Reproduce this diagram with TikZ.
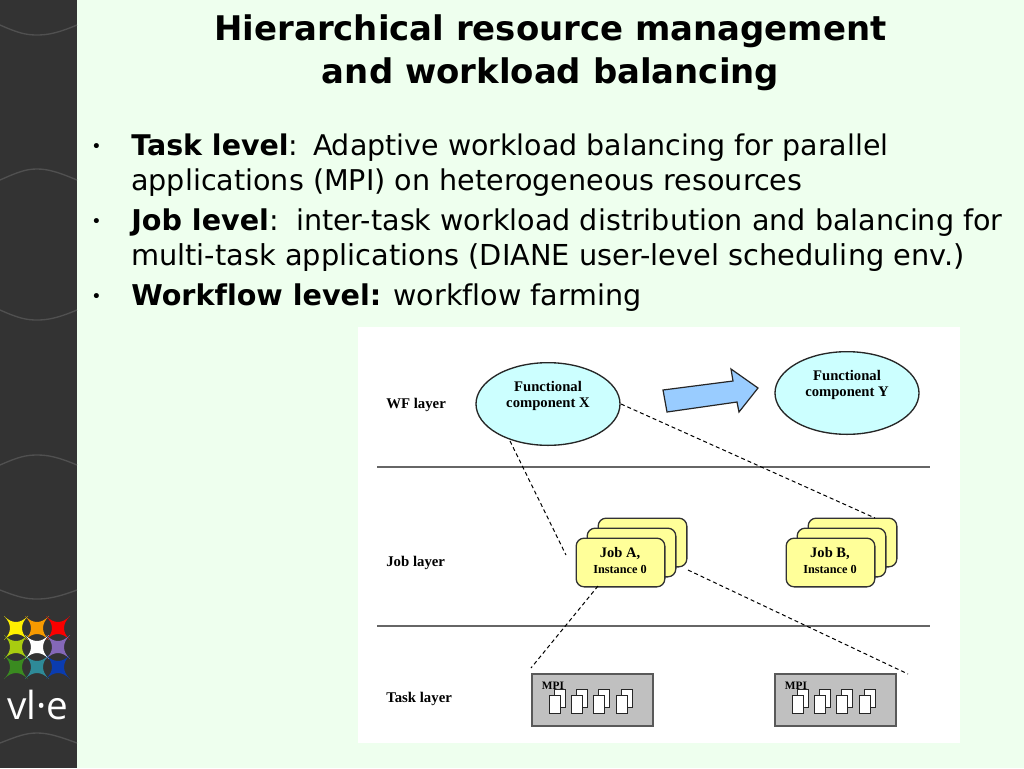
\documentclass[tikz,border=0pt]{standalone}
\usepackage{fontspec}
\setmainfont{DejaVu Sans}[Ligatures=NoCommon]
\newfontfamily\serifb{Liberation Serif}
\newfontfamily\logofont{Open Sans}
\definecolor{pagebg}{HTML}{EEFFEE}
\definecolor{sidebar}{HTML}{333333}
\definecolor{wave}{HTML}{505050}
\definecolor{ell}{HTML}{CCFFFF}
\definecolor{jobf}{HTML}{FFFF99}
\definecolor{arrowf}{HTML}{99CCFF}
\definecolor{taskf}{HTML}{C0C0C0}
\definecolor{lg1}{HTML}{FFF000}
\definecolor{lg2}{HTML}{F79A00}
\definecolor{lg3}{HTML}{FA0000}
\definecolor{lg4}{HTML}{A8CC10}
\definecolor{lg5}{HTML}{FFFFFF}
\definecolor{lg6}{HTML}{8468B8}
\definecolor{lg7}{HTML}{3A8A20}
\definecolor{lg8}{HTML}{2E8A98}
\definecolor{lg9}{HTML}{0A3CB0}
\tikzset{
  x=0.75pt,y=-0.75pt,
  title/.style={font=\fontsize{25.45}{25.45}\selectfont\bfseries,anchor=center,inner sep=0pt,text=black},
  body/.style={font=\fontsize{21.45}{21.45}\selectfont,anchor=base west,inner sep=0pt,text=black},
  bul/.style={font=\fontsize{13}{13}\selectfont,anchor=base west,inner sep=0pt},
  layer/.style={font=\serifb\fontsize{11.1}{12}\selectfont\bfseries,anchor=west,inner sep=0pt},
  comp/.style={draw=black!85,fill=ell,line width=1pt,ellipse,minimum width=108pt,minimum height=62pt,inner sep=0pt,align=center,font=\serifb\fontsize{11}{12}\selectfont\bfseries},
  jobbox/.style={draw=black!80,fill=jobf,rounded corners=6pt,line width=1pt,minimum width=66.5pt,minimum height=36.5pt,inner sep=0pt,align=center},
  joblabel/.style={font=\serifb\fontsize{10.9}{12}\selectfont\bfseries,align=center,inner sep=0pt},
  mpilabel/.style={font=\serifb\fontsize{8.5}{8.5}\selectfont\bfseries,inner sep=0pt},
  taskbox/.style={draw=black!65,fill=taskf,line width=1.1pt,minimum width=91pt,minimum height=39pt,inner sep=0pt},
  docbox/.style={draw=black!85,fill=white,line width=0.9pt,minimum width=8.6pt,minimum height=13pt,inner sep=0pt},
  dashline/.style={black,line width=0.75pt,dash pattern=on 3pt off 2.2pt},
  rule/.style={black!60,line width=0.8pt},
  wavel/.style={wave,line width=1pt},
}
\usetikzlibrary{shapes.geometric}
\newcommand{\logostar}[3]{\fill[#3] (#1-12,#2-12) .. controls (#1-4,#2-4) and (#1+4,#2-4) .. (#1+12,#2-12) .. controls (#1+4,#2-4) and (#1+4,#2+4) .. (#1+12,#2+12) .. controls (#1+4,#2+4) and (#1-4,#2+4) .. (#1-12,#2+12) .. controls (#1-4,#2+4) and (#1-4,#2-4) .. cycle;}
\newcommand{\jobstack}[3]{%
  \node[jobbox] at (#1+22,#2-20) {};
  \node[jobbox] at (#1+11,#2-10) {};
  \node[jobbox] (#3) at (#1,#2) {};
}
\newcommand{\docpair}[2]{%
  \node[docbox] at (#1+5,#2-6) {};
  \node[docbox] at (#1,#2) {};
}
\begin{document}
\begin{tikzpicture}
\useasboundingbox (0,0) rectangle (1024,768);
\fill[pagebg] (0,0) rectangle (1024,768);
\fill[sidebar] (0,0) rectangle (77,768);
\draw[wavel] (0,25) .. controls (18,33) and (26,35) .. (37,35) .. controls (48,35) and (58,33) .. (77,25);
\draw[wavel] (0,180) .. controls (18,172) and (26,169) .. (37,169) .. controls (48,169) and (58,172) .. (77,180);
\draw[wavel] (0,310) .. controls (18,318) and (26,320) .. (37,320) .. controls (48,320) and (58,318) .. (77,310);
\draw[wavel] (0,465) .. controls (18,457) and (26,455) .. (37,455) .. controls (48,455) and (58,457) .. (77,465);
\draw[wavel] (0,590) .. controls (18,597) and (26,599) .. (37,599) .. controls (48,599) and (58,597) .. (77,590);
\draw[wavel] (0,743) .. controls (18,736) and (26,733) .. (37,733) .. controls (48,733) and (58,736) .. (77,743);
\logostar{16}{628}{lg1}
\logostar{37}{628}{lg2}
\logostar{58}{628}{lg3}
\logostar{16}{647}{lg4}
\logostar{37}{647}{lg5}
\logostar{58}{647}{lg6}
\logostar{16}{667}{lg7}
\logostar{37}{667}{lg8}
\logostar{58}{667}{lg9}
\node[font=\logofont\fontsize{29}{29}\selectfont,text=white,inner sep=0pt,anchor=base] (logo) at (38,719) {vl·e};
\node[title] (t1) at (550.5,31) {Hierarchical resource management};
\node[title] (t2) at (550.5,74) {and workload balancing};
\node[bul] (b1) at (91,152) {•};
\node[bul] (b2) at (91,227) {•};
\node[bul] (b3) at (91,302) {•};
\node[body,font=\fontsize{21.35}{21.35}\selectfont] (l1) at (131,155.5) {\textbf{Task level}:\hspace{2pt} Adaptive workload balancing for parallel};
\node[body] (l2) at (131,190.5) {applications (MPI) on heterogeneous resources};
\node[body] (l3) at (131,230.5) {\textbf{Job level}:\hspace{4pt} inter-task workload distribution and balancing for};
\node[body,font=\fontsize{21.63}{21.63}\selectfont] (l4) at (131,265.5) {multi-task applications (DIANE user-level scheduling env.)};
\node[body] (l5) at (131,305.5) {\textbf{Workflow level:} workflow farming};
\fill[white] (358,327) rectangle (960,743);
\draw[rule] (377,467) -- (930,467);
\draw[rule] (377,626) -- (930,626);
\node[comp] (fx) at (548,404) {Functional\\component X\\[3pt]};
\node[comp] (fy) at (847,393) {Functional\\component Y\\[3pt]};
\draw[draw=black!85,fill=arrowf,line width=0.9pt] (663,390) -- (733,381) -- (731,369) -- (758,388) -- (739,412) -- (737,402) -- (667,412) -- cycle;
\node[layer] (wf) at (386,404.5) {WF layer};
\node[layer] (jl) at (386,562.5) {Job layer};
\node[layer] (tl) at (386,698.5) {Task layer};
\jobstack{620.5}{562.5}{ja}
\jobstack{830.5}{562.5}{jb}
\node[joblabel] (jat) at (620,561) {Job A,\\{\fontsize{9.2}{12}\selectfont Instance 0}};
\node[joblabel] (jbt) at (830,561) {Job B,\\{\fontsize{9.2}{12}\selectfont Instance 0}};
\node[taskbox] (ta) at (592.5,700) {};
\node[taskbox] (tb) at (835.5,700) {};
\node[mpilabel] (ma) at (553,686) {MPI};
\node[mpilabel] (mb) at (796,686) {MPI};
\docpair{555}{704.5}\docpair{577}{704.5}\docpair{599}{704.5}\docpair{622}{704.5}
\docpair{798}{704.5}\docpair{820}{704.5}\docpair{842}{704.5}\docpair{865}{704.5}
\coordinate (c1) at (510,441);
\coordinate (c2) at (566,555);
\coordinate (c3) at (621,404);
\coordinate (c4) at (875,518);
\coordinate (c5) at (688,570);
\coordinate (c6) at (908,674);
\coordinate (c7) at (598,586);
\coordinate (c8) at (531,668);
\draw[dashline] (c1) -- (c2);
\draw[dashline] (c3) -- (c4);
\draw[dashline] (c5) -- (c6);
\draw[dashline] (c7) -- (c8);
\end{tikzpicture}
\end{document}
